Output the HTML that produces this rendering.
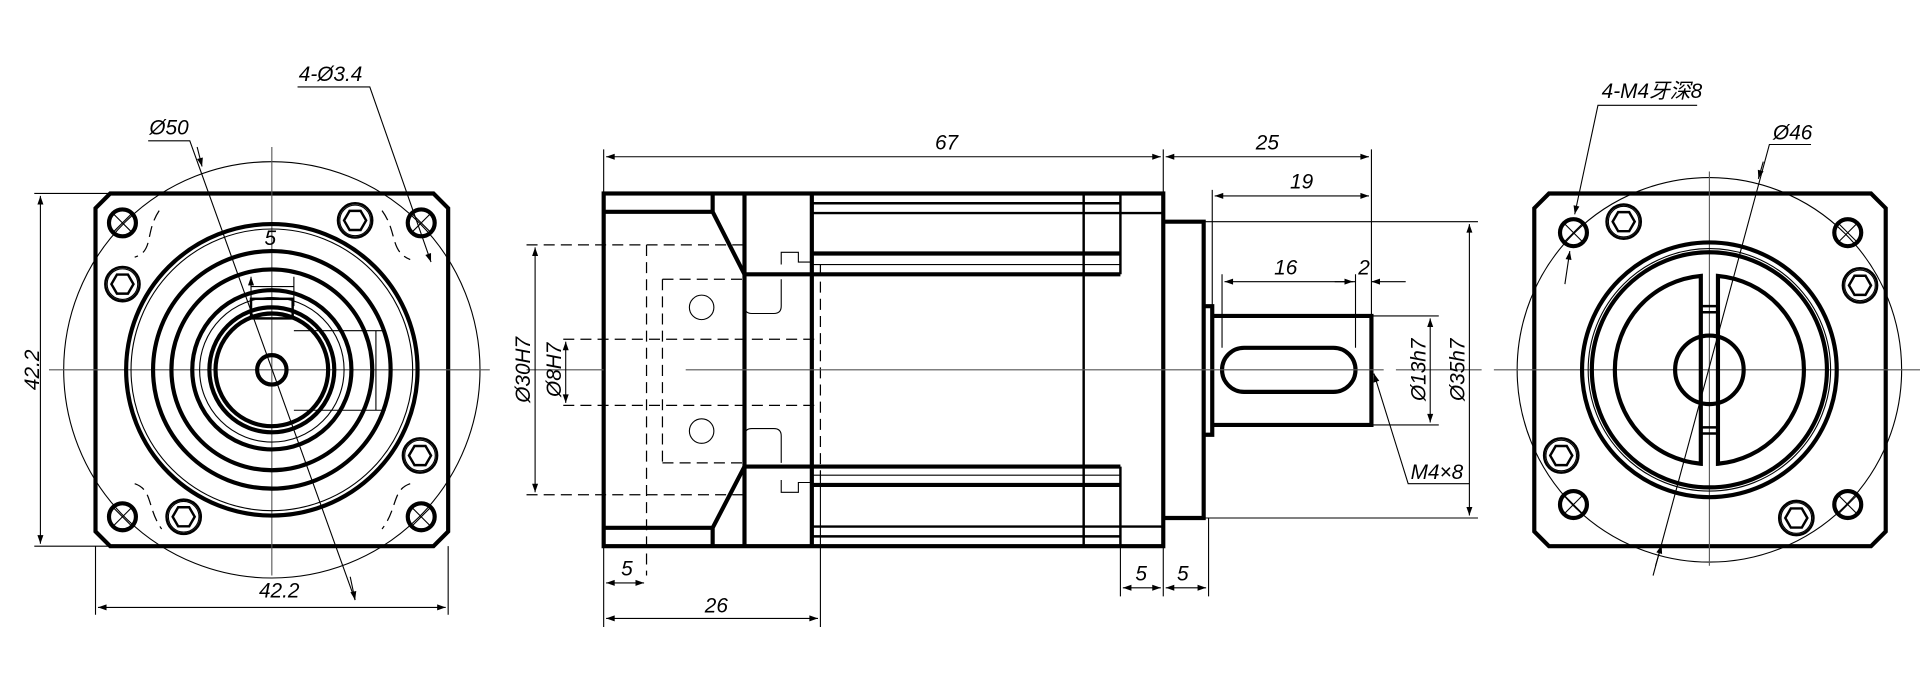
<!DOCTYPE html>
<html><head><meta charset="utf-8"><style>
html,body{margin:0;padding:0;background:#fff;width:1920px;height:687px;overflow:hidden}
svg{display:block}
text{font-family:"Liberation Sans","Noto Sans CJK SC",sans-serif;font-size:17px;font-style:italic;fill:#000}
.k{stroke:#000;stroke-width:3.4;fill:none}
.m{stroke:#000;stroke-width:2;fill:none}
.t{stroke:#000;stroke-width:0.9;fill:none}
.c{stroke:#555;stroke-width:0.9;fill:none}
.d{stroke:#000;stroke-width:1;fill:none;stroke-dasharray:9 5}
</style></head><body>
<svg width="1920" height="687" viewBox="0 0 1568 561" preserveAspectRatio="none">
<defs>
<marker id="a" viewBox="0 0 10 10" refX="10" refY="5" markerWidth="10" markerHeight="7" orient="auto-start-reverse" markerUnits="userSpaceOnUse"><path d="M0,1.5L10,5L0,8.5z" fill="#000"/></marker>
<g id="hx"><circle r="14" class="m"/><circle r="12.5" class="t"/><polygon points="9,0 4.5,7.8 -4.5,7.8 -9,0 -4.5,-7.8 4.5,-7.8" class="m"/></g>
<g id="ho"><circle r="11" class="k"/><path d="M-8,-8L8,8M-8,8L8,-8" class="t"/></g>
</defs>

<!-- ============ LEFT VIEW ============ -->
<path d="M90,158H354L366,170V434L354,446H90L78,434V170Z" class="k"/>
<circle cx="222" cy="302" r="170" class="t"/>
<path d="M40,302H400M222,120V470" class="c"/>
<circle cx="222" cy="302" r="119" class="k" stroke-width="4.5"/>
<circle cx="222" cy="302" r="115" class="t"/>
<circle cx="222" cy="302" r="97" class="k" stroke-width="4"/>
<circle cx="222" cy="302" r="82" class="k"/>
<circle cx="222" cy="302" r="65" class="k"/>
<circle cx="222" cy="302" r="59" class="t"/>
<circle cx="222" cy="302" r="51" class="k" stroke-width="4"/>
<circle cx="222" cy="302" r="46" class="k"/>
<circle cx="222" cy="302" r="12" class="k"/>
<rect x="205" y="244" width="34" height="16" class="m"/>
<path d="M205,226V250M240,226V250M205,234H240" class="t" marker-start="url(#a)"/>
<path d="M240,270H315M240,335H315M307,270V335" class="t"/>
<text x="216" y="200" font-size="14">5</text>
<use href="#ho" x="100" y="182"/><use href="#ho" x="344" y="182"/>
<use href="#ho" x="100" y="422"/><use href="#ho" x="344" y="422"/>
<use href="#hx" x="100" y="232"/><use href="#hx" x="290" y="180"/>
<use href="#hx" x="343" y="372"/><use href="#hx" x="150" y="422"/>
<path d="M130,172C118,190 126,205 110,210M312,172C325,190 318,205 335,212M110,395C125,400 120,415 132,432M335,395C320,400 325,415 312,432" class="d"/>
<!-- left dims -->
<path d="M33,160V444" class="t" marker-start="url(#a)" marker-end="url(#a)"/>
<path d="M28,158H90M28,446H90" class="t"/>
<text transform="translate(32,302) rotate(-90)" text-anchor="middle">42.2</text>
<path d="M80,496H364" class="t" marker-start="url(#a)" marker-end="url(#a)"/>
<path d="M78,446V502M366,446V502" class="t"/>
<text x="228" y="488" text-anchor="middle">42.2</text>
<text x="122" y="110">Ø50</text>
<path d="M121,115H155L290,490" class="t"/>
<path d="M286,471L290,490" class="t" marker-end="url(#a)"/>
<path d="M161,120L165,136" class="t" marker-end="url(#a)"/>
<text x="244" y="66">4-Ø3.4</text>
<path d="M243,71H302L352,214" class="t" marker-end="url(#a)"/>

<!-- ============ MIDDLE VIEW ============ -->
<rect x="493" y="158" width="457" height="288" class="k"/>
<path d="M493,173H582V158M493,431H582V446M582,173L608,224M582,431L608,381" class="k"/>
<path d="M608,158V446M663,158V446" class="k"/>
<path d="M608,224H915M608,381H915" class="k"/>
<path d="M663,166H915M663,174H915M915,174H950M915,430H950M663,430H915M663,438H915" class="m"/>
<path d="M663,207H915M663,396H915" class="k" stroke-width="4.5"/>
<path d="M663,216H915M663,388H915" class="t"/>
<path d="M885,158V446M915,158V224M915,381V446" class="m"/>
<path d="M950,181H983V423H950" class="k"/>
<path d="M983,250H990V355H983" class="k"/>
<path d="M990,258H1120V347H990" class="k"/>
<rect x="998" y="284" width="109" height="36" rx="18" class="k"/>
<!-- hidden -->
<path d="M430,200H608M430,404H608M528,200V470M541,228H608M541,378H608M541,228V378M460,277H670M460,331H670M670,216V392" class="d"/>
<path d="M608,228V250Q608,256 614,256H632Q638,256 638,250V228M608,378V356Q608,350 614,350H632Q638,350 638,356V378" class="t"/>
<path d="M638,216V206H652V214H663M638,392V402H652V394H663" class="t"/>
<circle cx="573" cy="251" r="10" class="t"/><circle cx="573" cy="352" r="10" class="t"/>
<path d="M560,302H1130M430,302H493M1140,302H1210" class="c"/>
<!-- middle dims -->
<path d="M493,122V158M950,122V160M1120,122V258M990,155V250" class="t"/>
<path d="M495,128H948" class="t" marker-start="url(#a)" marker-end="url(#a)"/>
<text x="773" y="122" text-anchor="middle">67</text>
<path d="M952,128H1118" class="t" marker-start="url(#a)" marker-end="url(#a)"/>
<text x="1035" y="122" text-anchor="middle">25</text>
<path d="M992,160H1118" class="t" marker-start="url(#a)" marker-end="url(#a)"/>
<text x="1063" y="154" text-anchor="middle">19</text>
<path d="M998,224V284M1107,224V284" class="t"/>
<path d="M1000,230H1105" class="t" marker-start="url(#a)" marker-end="url(#a)"/>
<text x="1050" y="224" text-anchor="middle">16</text>
<path d="M1090,230H1107M1148,230H1120" class="t" marker-end="url(#a)"/>
<text x="1114" y="224" text-anchor="middle">2</text>
<path d="M1120,258H1175M1120,347H1175M983,181H1207M983,423H1207" class="t"/>
<path d="M1168,260V345" class="t" marker-start="url(#a)" marker-end="url(#a)"/>
<text transform="translate(1164,302) rotate(-90)" text-anchor="middle">Ø13h7</text>
<path d="M1200,183V421" class="t" marker-start="url(#a)" marker-end="url(#a)"/>
<text transform="translate(1196,302) rotate(-90)" text-anchor="middle">Ø35h7</text>
<path d="M1200,395H1150L1122,305" class="t" marker-end="url(#a)"/>
<text x="1152" y="391" font-size="15">M4×8</text>
<path d="M437,202V402" class="t" marker-start="url(#a)" marker-end="url(#a)"/>
<text transform="translate(433,302) rotate(-90)" text-anchor="middle">Ø30H7</text>
<path d="M462,279V329" class="t" marker-start="url(#a)" marker-end="url(#a)"/>
<text transform="translate(458,302) rotate(-90)" text-anchor="middle">Ø8H7</text>
<path d="M493,446V512M670,392V512M915,446V487M950,446V487M987,423V487" class="t"/>
<path d="M495,476H526" class="t" marker-start="url(#a)" marker-end="url(#a)"/>
<text x="512" y="470" text-anchor="middle">5</text>
<path d="M495,505H668" class="t" marker-start="url(#a)" marker-end="url(#a)"/>
<text x="585" y="500" text-anchor="middle">26</text>
<path d="M917,480H948" class="t" marker-start="url(#a)" marker-end="url(#a)"/>
<text x="932" y="474" text-anchor="middle">5</text>
<path d="M952,480H985" class="t" marker-start="url(#a)" marker-end="url(#a)"/>
<text x="966" y="474" text-anchor="middle">5</text>

<!-- ============ RIGHT VIEW ============ -->
<path d="M1265,158H1528L1540,170V434L1528,446H1265L1253,434V170Z" class="k"/>
<circle cx="1396" cy="302" r="157" class="t"/>
<path d="M1220,302H1568M1396,140V462" class="c"/>
<circle cx="1396" cy="302" r="104" class="k" stroke-width="4.5"/>
<circle cx="1396" cy="302" r="99" class="t"/>
<circle cx="1396" cy="302" r="96" class="k"/>
<path d="M1389,225.3A77,77 0 0 0 1389,378.7ZM1403,225.3A77,77 0 0 1 1403,378.7Z" class="k"/>
<path d="M1389,250H1403M1389,255H1403M1389,349H1403M1389,354H1403" class="m"/>
<circle cx="1396" cy="302" r="28" class="k" fill="#fff"/>
<use href="#ho" x="1285" y="190"/><use href="#ho" x="1509" y="190"/>
<use href="#ho" x="1285" y="412"/><use href="#ho" x="1509" y="412"/>
<use href="#hx" x="1326" y="181"/><use href="#hx" x="1519" y="233"/>
<use href="#hx" x="1275" y="372"/><use href="#hx" x="1467" y="423"/>
<text x="1308" y="80">4-M4牙深8</text>
<path d="M1386,86H1305L1286,175" class="t" marker-end="url(#a)"/>
<path d="M1278,232L1282,205" class="t" marker-end="url(#a)"/>
<text x="1448" y="114">Ø46</text>
<path d="M1479,118H1445L1350,470" class="t"/>
<path d="M1440,132L1436,146" class="t" marker-end="url(#a)"/>
<path d="M1352,462L1357,445" class="t" marker-end="url(#a)"/>
</svg>
</body></html>
